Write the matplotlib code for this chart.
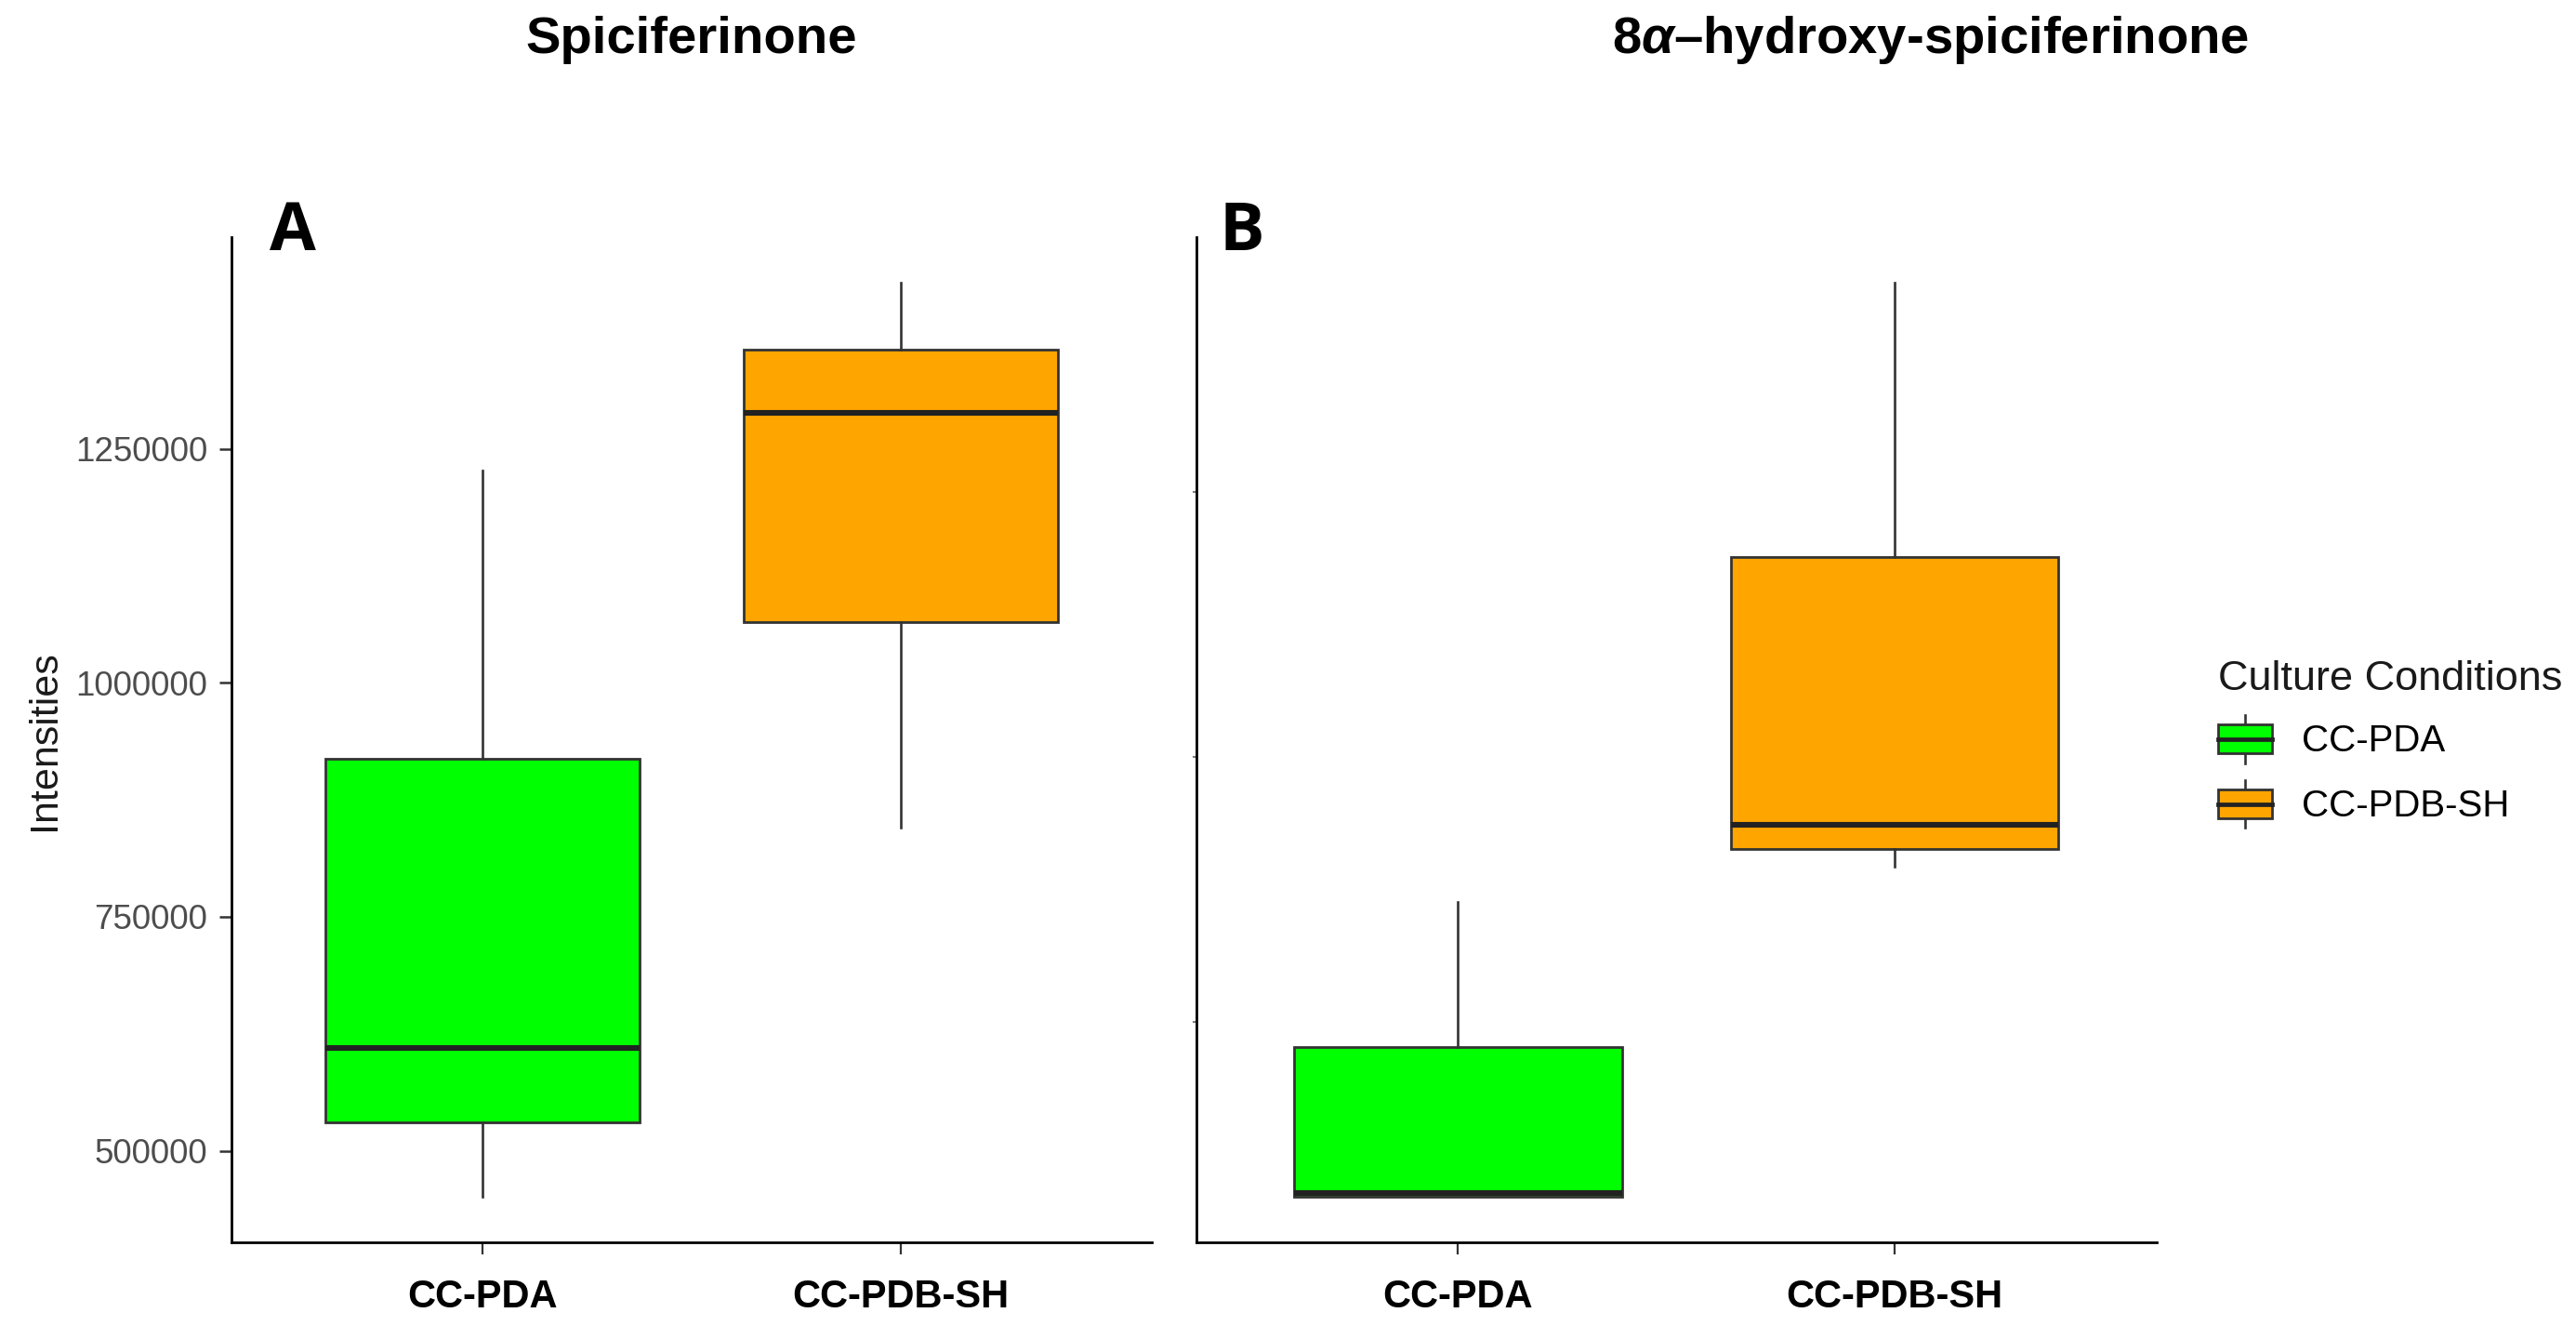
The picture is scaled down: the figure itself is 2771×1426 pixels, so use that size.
import matplotlib
matplotlib.use("Agg")
import matplotlib.pyplot as plt
from matplotlib.patches import Rectangle
from matplotlib.lines import Line2D
from matplotlib.legend_handler import HandlerBase

plt.rcParams['font.family'] = ['Liberation Sans', 'DejaVu Sans']
plt.rcParams['mathtext.fontset'] = 'custom'
plt.rcParams['mathtext.rm'] = 'Liberation Sans:bold'
plt.rcParams['mathtext.it'] = 'Liberation Sans:italic:bold'
plt.rcParams['mathtext.bf'] = 'Liberation Sans:bold'

# ---------------- data ----------------
categories = ["CC-PDA", "CC-PDB-SH"]
colors = ["#00FF00", "#FFA500"]
panel_titles = ["Spiciferinone", "8$\\alpha$\u2013hydroxy-spiciferinone"]
panel_letters = ["A", "B"]
legend_title = "Culture Conditions"
y_label = "Intensities"

# Panel A: Spiciferinone
spic_whislo = [451000, 845000]
spic_q1 = [530000, 1064500]
spic_med = [610000, 1288500]
spic_q3 = [919000, 1356500]
spic_whishi = [1226500, 1427500]

# Panel B: 8a-hydroxy-spiciferinone
hyd_whislo = [170500, 793000]
hyd_q1 = [170500, 826000]
hyd_med = [177000, 873000]
hyd_q3 = [452500, 1378000]
hyd_whishi = [726000, 1895000]

spic_yticks = [500000, 750000, 1000000, 1250000]
hyd_yticks = [500000, 1000000, 1500000]

# ---------------- figure ----------------
W, H = 2771, 1426
fig = plt.figure(figsize=(W / 100, H / 100), dpi=100, facecolor="white")

def fx(px):
    return px / W

def fy(py):
    return 1 - py / H

axA = fig.add_axes([fx(249), fy(1336), fx(1239) - fx(249), fy(255) - fy(1336)])
axB = fig.add_axes([fx(1286.5), fy(1336), fx(2320) - fx(1286.5), fy(255) - fy(1336)])

edge = "#333333"

def draw_panel(ax, lo, q1, med, q3, hi, yticks, show_labels):
    stats = []
    for i, c in enumerate(categories):
        stats.append(dict(label=c, whislo=lo[i], q1=q1[i], med=med[i], q3=q3[i],
                          whishi=hi[i], fliers=[]))
    bp = ax.bxp(stats, positions=[1, 2], widths=0.75, patch_artist=True,
                showfliers=False, showcaps=False,
                boxprops=dict(edgecolor=edge, linewidth=2.0),
                medianprops=dict(color="#222222", linewidth=4.4, solid_capstyle="butt"),
                whiskerprops=dict(color=edge, linewidth=1.9))
    for patch, col in zip(bp["boxes"], colors):
        patch.set_facecolor(col)
    dmin = min(lo)
    dmax = max(hi)
    rng = dmax - dmin
    ax.set_ylim(dmin - 0.05 * rng, dmax + 0.05 * rng)
    ax.set_xlim(0.4, 2.6)
    ax.set_xticks([1, 2])
    ax.set_xticklabels(categories, fontsize=30, fontweight="bold", color="black")
    ax.set_yticks(yticks)
    for s in ["top", "right"]:
        ax.spines[s].set_visible(False)
    for s in ["left", "bottom"]:
        ax.spines[s].set_color("black")
        ax.spines[s].set_linewidth(2.0)
    ax.tick_params(axis="x", length=9, width=1.6, color=edge, pad=19)
    if show_labels:
        ax.set_yticklabels([str(t) for t in yticks], fontsize=26.5, color="#4D4D4D")
        ax.tick_params(axis="y", length=9.5, width=1.8, color=edge, pad=9)
    else:
        ax.set_yticklabels([])
        ax.tick_params(axis="y", length=3, width=1.4, color="#777777")
    ax.set_facecolor("white")

draw_panel(axA, spic_whislo, spic_q1, spic_med, spic_q3, spic_whishi, spic_yticks, True)
draw_panel(axB, hyd_whislo, hyd_q1, hyd_med, hyd_q3, hyd_whishi, hyd_yticks, False)

# titles
fig.text(fx(744), fy(57), panel_titles[0], ha="center", va="baseline",
         fontsize=40.5, fontweight="bold")
fig.text(fx(2077), fy(57), panel_titles[1], ha="center", va="baseline",
         fontsize=40.5, fontweight="bold")

# panel letters
fig.text(fx(290), fy(269), panel_letters[0], ha="left", va="baseline",
         fontsize=52, fontweight="bold", family=["Open Sans", "DejaVu Sans"])
fig.text(fx(1312), fy(269), panel_letters[1], ha="left", va="baseline",
         fontsize=52, fontweight="bold", family=["Open Sans", "DejaVu Sans"])

# y label
fig.text(fx(48), fy(796), y_label, rotation=90, ha="center", va="center",
         fontsize=31, color="#1A1A1A")

# legend with boxplot-style keys
class BoxKeyHandler(HandlerBase):
    def create_artists(self, legend, orig_handle, xdescent, ydescent, width, height,
                       fontsize, trans):
        x0, y0 = -xdescent, -ydescent
        cx = x0 + width / 2
        bh = height * 0.6
        by = y0 + (height - bh) / 2
        whisk = Line2D([cx, cx], [y0, y0 + height], color=edge, linewidth=1.9,
                       transform=trans)
        rect = Rectangle((x0, by), width, bh, facecolor=orig_handle.get_facecolor(),
                         edgecolor=edge, linewidth=2.0, transform=trans)
        med = Line2D([x0, x0 + width], [by + bh / 2, by + bh / 2], color="#222222",
                     linewidth=3.4, transform=trans)
        return [whisk, rect, med]

handles = [Rectangle((0, 0), 1, 1, facecolor=c) for c in colors]
leg = fig.legend(handles, categories, title=legend_title,
                 handler_map={Rectangle: BoxKeyHandler()},
                 loc="center left", bbox_to_anchor=(fx(2386), fy(800)),
                 frameon=False, fontsize=29, title_fontsize=32.5,
                 handlelength=1.45, handleheight=1.6, handletextpad=0.78,
                 labelspacing=0.45, borderpad=0, borderaxespad=0, alignment="left")
leg.get_title().set_color("#1A1A1A")

fig.savefig("out.png", dpi=100, facecolor="white")
